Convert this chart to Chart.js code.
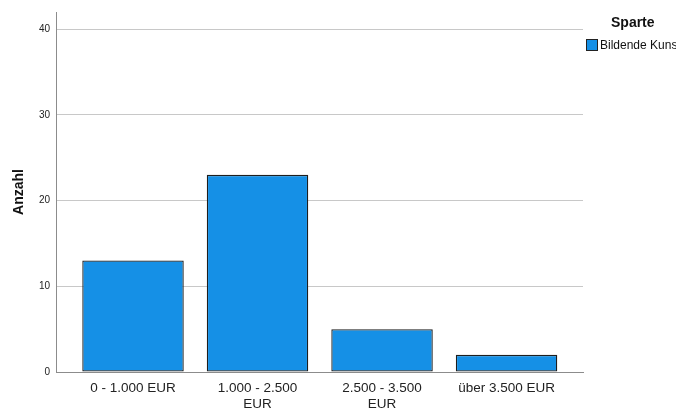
<!DOCTYPE html>
<html lang="de">
<head>
    <meta charset="UTF-8">
    <title>Anzahl nach Einkommen</title>
    <script src="https://cdn.jsdelivr.net/npm/chart.js@4.4.0/dist/chart.umd.min.js"></script>
    <style>
        html, body { margin: 0; padding: 0; background: #fff; overflow: hidden; }
        #wrap { width: 676px; height: 408px; }
    </style>
</head>
<body>
    <div id="wrap"><canvas id="myChart" width="676" height="408"></canvas></div>
    <script>
        // data
        var categories = ['0 - 1.000 EUR', '1.000 - 2.500 EUR', '2.500 - 3.500 EUR', 'über 3.500 EUR'];
        var tickLabels = [['0 - 1.000 EUR'], ['1.000 - 2.500', 'EUR'], ['2.500 - 3.500', 'EUR'], ['über 3.500 EUR']];
        var seriesName = 'Bildende Kunst';
        var counts = [13, 23, 5, 2];
        var yTicks = [0, 10, 20, 30, 40];
        var legendTitle = 'Sparte';
        var yTitle = 'Anzahl';

        var barColor = '#1590e6';
        var fontFam = '"Liberation Sans", Arial, sans-serif';

        var points = counts.map(function (v, i) { return { x: i, y: v }; });

        // legend drawn on the right, cut off by the canvas edge like the original
        var sideLegend = {
            id: 'sideLegend',
            afterDraw: function (chart) {
                var c = chart.ctx;
                var x0 = chart.chartArea.right + 3;
                c.save();
                c.fillStyle = '#111';
                c.font = 'bold 14px ' + fontFam;
                c.textBaseline = 'middle';
                c.textAlign = 'left';
                c.fillText(legendTitle, x0 + 25, 23);
                c.fillStyle = barColor;
                c.fillRect(x0 + 0.5, 39.5, 11, 11);
                c.strokeStyle = '#222';
                c.lineWidth = 1;
                c.strokeRect(x0 + 0.5, 39.5, 11, 11);
                c.fillStyle = '#111';
                c.font = '12px ' + fontFam;
                c.fillText(chart.data.datasets[0].label, x0 + 14, 46);
                c.restore();
            }
        };

        var ctx = document.getElementById('myChart').getContext('2d');
        var myChart = new Chart(ctx, {
            type: 'bar',
            data: {
                datasets: [{
                    label: seriesName,
                    data: points,
                    backgroundColor: barColor,
                    borderColor: '#1e1e1e',
                    borderWidth: 1.3,
                    borderSkipped: false,
                    categoryPercentage: 1,
                    barPercentage: 0.815
                }]
            },
            options: {
                responsive: false,
                animation: false,
                layout: { padding: { left: 0, top: 10, right: 93, bottom: 0 } },
                plugins: {
                    legend: { display: false },
                    tooltip: { enabled: false }
                },
                scales: {
                    x: {
                        type: 'linear',
                        offset: false,
                        min: -0.6185,
                        max: 3.614,
                        grid: { display: false, offset: false },
                        border: { display: true, color: '#8c8c8c', width: 1 },
                        afterBuildTicks: function (scale) {
                            scale.ticks = categories.map(function (c, i) { return { value: i }; });
                        },
                        afterFit: function (scale) { scale.height = 36; },
                        ticks: {
                            autoSkip: false,
                            maxRotation: 0,
                            padding: 0,
                            color: '#222',
                            font: { family: fontFam, size: 13.5, lineHeight: 1.18 },
                            callback: function (value) { return tickLabels[value]; }
                        }
                    },
                    y: {
                        min: 0,
                        max: 42,
                        afterBuildTicks: function (scale) {
                            scale.ticks = yTicks.map(function (v) { return { value: v }; });
                        },
                        afterFit: function (scale) { scale.width = 56; },
                        grid: { color: '#c8c8c8', drawTicks: false, lineWidth: 1 },
                        border: { display: true, color: '#8c8c8c', width: 1 },
                        ticks: {
                            padding: 6,
                            color: '#222',
                            font: { family: fontFam, size: 10 }
                        },
                        title: {
                            display: true,
                            text: yTitle,
                            color: '#111',
                            padding: { top: 11, bottom: 0 },
                            font: { family: fontFam, size: 14, weight: 'bold' }
                        }
                    }
                }
            },
            plugins: [sideLegend]
        });
    </script>
</body>
</html>
